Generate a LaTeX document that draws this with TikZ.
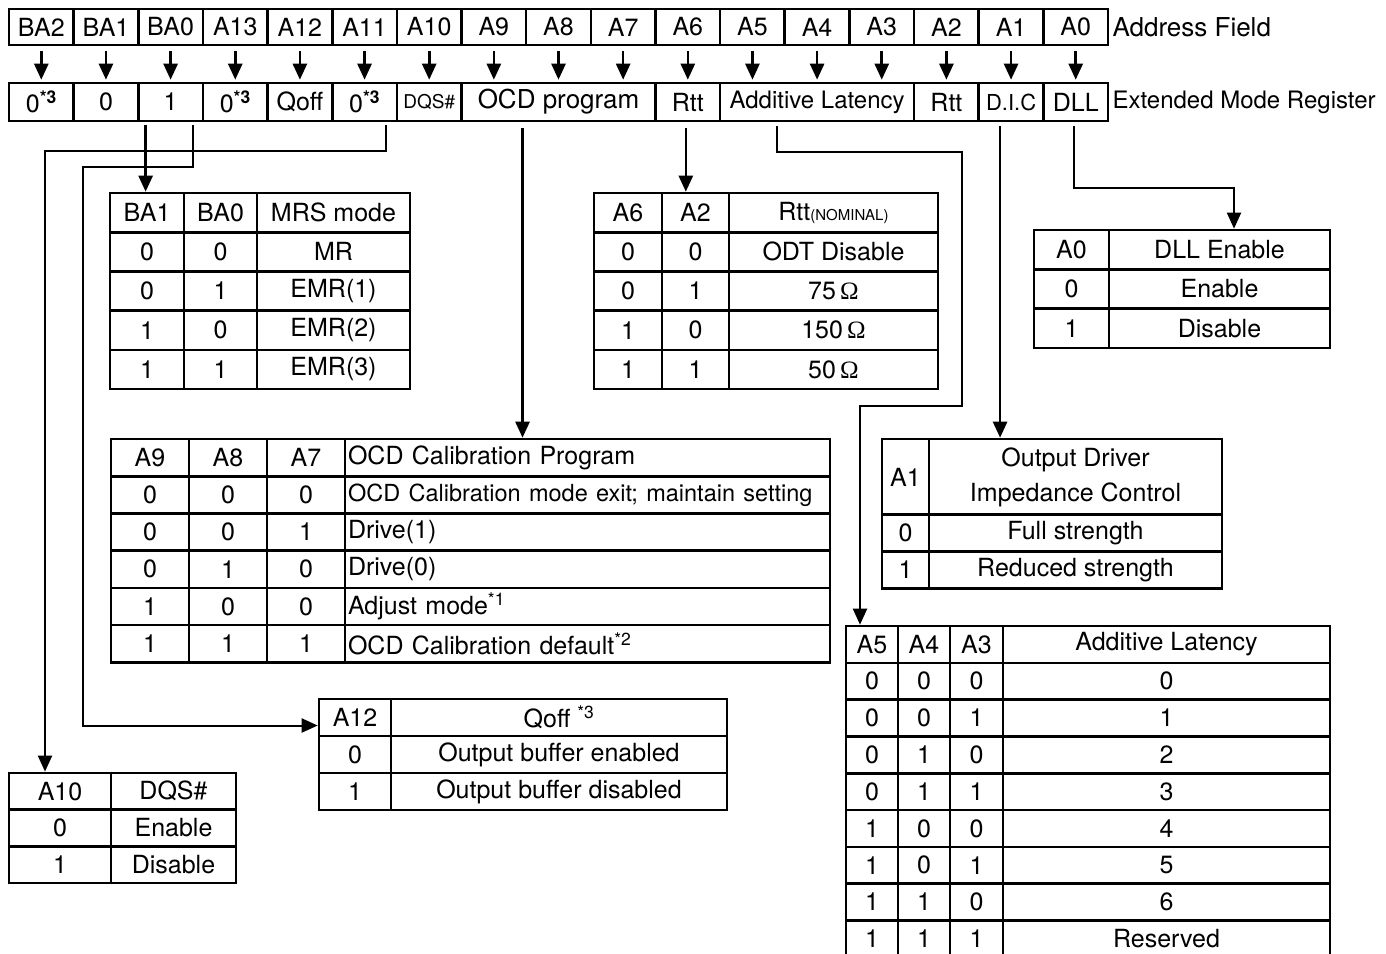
\documentclass[tikz,border=0pt]{standalone}
\usepackage{fontspec}
\setmainfont{TeX Gyre Heros}
\newfontfamily\omegafont{Liberation Serif}
\usetikzlibrary{arrows.meta,positioning}

\newcommand{\supnote}[1]{\textsuperscript{#1}}
\newcommand{\ohm}{\,{\omegafont Ω}}

\tikzset{
  cell/.style={draw, line width=2.6pt, inner sep=0pt, align=center,
    font=\fontsize{25}{30}\selectfont},
  drop/.style={line width=2.6pt, -{Triangle[length=16pt,width=14pt]}},
  wire/.style={line width=2pt, -{Triangle[length=16pt,width=14pt]}},
}

\begin{document}
\begin{tikzpicture}[x=1pt, y=-1pt]
	\useasboundingbox (0,0) rectangle (1386,953);
	\clip (0,0) rectangle (1386,953);
	
	% Address field row
	\foreach \lab [count=\i from 0] in {BA2,BA1,BA0,A13,A12,A11,A10,A9,A8,A7,A6,A5,A4,A3,A2,A1,A0}
	\node[cell, minimum width=64.65pt, minimum height=36pt] (a\i) at (41.3+64.65*\i, 27) {\lab};
	\node[anchor=west, inner sep=3pt, font=\fontsize{26}{30}\selectfont] (addrlab) at (a16.east) {Address Field};
	
	% Extended mode register row
	\foreach \c/\n/\lab [count=\i from 0] in {0/1/{0\supnote{\bfseries *3}}, 1/1/0, 2/1/1,
		3/1/{0\supnote{\bfseries *3}}, 4/1/Qoff, 5/1/{0\supnote{\bfseries *3}},
		6/1/{\fontsize{19}{22}\selectfont DQS\#}, 7/3/{\fontsize{26}{30}\selectfont OCD program}, 10/1/Rtt,
		11/3/{\fontsize{24}{28}\selectfont Additive Latency}, 14/1/Rtt, 15/1/{\fontsize{22}{26}\selectfont D.I.C}, 16/1/DLL}
	\node[cell, minimum width=64.65pt*\n, minimum height=38pt] (e\i) at (9+64.65*\c+32.325*\n, 102) {\lab};
	\node[anchor=west, inner sep=3pt, font=\fontsize{24}{28}\selectfont] (emrlab) at (e12.east) {Extended Mode Register};
	
	% Arrows from address bits down to the register
	\foreach \i in {0,...,16}
	\draw[drop, shorten <=5pt, shorten >=2pt] (a\i.south) -- (a\i.south |- e0.north);
	
	% MRS mode table
	\foreach \p/\q/\m [count=\r from 0] in {BA1/BA0/MRS mode, 0/0/MR, 0/1/EMR(1), 1/0/EMR(2), 1/1/EMR(3)} {
		\node[cell, minimum width=74pt, minimum height=39.2pt] (m\r-a) at (147, 212.6+39.2*\r) {\p};
		\node[cell, minimum width=73pt, minimum height=39.2pt] (m\r-b) at (220.5, 212.6+39.2*\r) {\q};
		\node[cell, minimum width=153pt, minimum height=39.2pt] (m\r-c) at (333.5, 212.6+39.2*\r) {\m};
	}
	
	% Rtt table
	\foreach \p/\q/\m [count=\r from 0] in {A6/A2/{Rtt{\fontsize{15}{18}\selectfont(NOMINAL)}},
		0/0/ODT Disable, 0/1/{75\ohm}, 1/0/{150\ohm}, 1/1/{50\ohm}} {
		\node[cell, minimum width=68pt, minimum height=39.2pt] (r\r-a) at (628, 212.6+39.2*\r) {\p};
		\node[cell, minimum width=67pt, minimum height=39.2pt] (r\r-b) at (695.5, 212.6+39.2*\r) {\q};
		\node[cell, minimum width=209pt, minimum height=39.2pt] (r\r-c) at (833.5, 212.6+39.2*\r) {\m};
	}
	
	% DLL enable table
	\foreach \p/\q [count=\r from 0] in {A0/DLL Enable, 0/Enable, 1/Disable} {
		\node[cell, minimum width=75pt, minimum height=39.3pt] (g\r-a) at (1071.5, 249.6+39.3*\r) {\p};
		\node[cell, minimum width=221pt, minimum height=39.3pt] (g\r-b) at (1219.5, 249.6+39.3*\r) {\q};
	}
	
	% Output driver impedance table
	\node[cell, minimum width=47pt, minimum height=76pt] (i0-a) at (905.5, 477) {A1};
	\node[cell, minimum width=293pt, minimum height=76pt, font=\fontsize{25}{35}\selectfont]
	(i0-b) at (1075.5, 477) {Output Driver\\Impedance Control};
	\foreach \p/\q [count=\r from 1] in {0/Full strength, 1/Reduced strength} {
		\node[cell, minimum width=47pt, minimum height=37pt] (i\r-a) at (905.5, 496+37*\r) {\p};
		\node[cell, minimum width=293pt, minimum height=37pt] (i\r-b) at (1075.5, 496+37*\r) {\q};
	}
	
	% OCD calibration table
	\foreach \p/\q/\s/\t [count=\r from 0] in {A9/A8/A7/OCD Calibration Program,
		0/0/0/{\fontsize{23.5}{28}\selectfont OCD Calibration mode exit; maintain setting},
		0/0/1/Drive(1), 0/1/0/Drive(0), 1/0/0/{Adjust mode\supnote{*1}},
		1/1/1/{OCD Calibration default\supnote{*2}}} {
		\node[cell, minimum width=78pt, minimum height=37.2pt] (o\r-a) at (150, 457.6+37.2*\r) {\p};
		\node[cell, minimum width=78pt, minimum height=37.2pt] (o\r-b) at (228, 457.6+37.2*\r) {\q};
		\node[cell, minimum width=78pt, minimum height=37.2pt] (o\r-c) at (306, 457.6+37.2*\r) {\s};
		\node[cell, anchor=west, text width=479pt, inner xsep=3pt, align=left,
		minimum height=37.2pt] (o\r-d) at (343.7, 457.6+37.2*\r) {\t};
	}
	
	% Qoff table
	\foreach \p/\q [count=\r from 0] in {A12/{Qoff \supnote{*3}}, 0/Output buffer enabled, 1/Output buffer disabled} {
		\node[cell, minimum width=72pt, minimum height=37pt] (q\r-a) at (355, 717.5+37*\r) {\p};
		\node[cell, minimum width=336pt, minimum height=37pt] (q\r-b) at (559, 717.5+37*\r) {\q};
	}
	
	% DQS# table
	\foreach \p/\q [count=\r from 0] in {A10/DQS\#, 0/Enable, 1/Disable} {
		\node[cell, minimum width=102pt, minimum height=36.7pt] (d\r-a) at (60, 791.3+36.7*\r) {\p};
		\node[cell, minimum width=125pt, minimum height=36.7pt] (d\r-b) at (173.5, 791.3+36.7*\r) {\q};
	}
	
	% Additive latency table
	\foreach \p/\q/\s/\t [count=\r from 0] in {A5/A4/A3/Additive Latency, 0/0/0/0, 0/0/1/1,
		0/1/0/2, 0/1/1/3, 1/0/0/4, 1/0/1/5, 1/1/0/6, 1/1/1/Reserved} {
		\node[cell, minimum width=52pt, minimum height=36.8pt] (l\r-a) at (872, 644.4+36.8*\r) {\p};
		\node[cell, minimum width=52pt, minimum height=36.8pt] (l\r-b) at (924, 644.4+36.8*\r) {\q};
		\node[cell, minimum width=53pt, minimum height=36.8pt] (l\r-c) at (976.5, 644.4+36.8*\r) {\s};
		\node[cell, minimum width=327pt, minimum height=36.8pt] (l\r-d) at (1166.5, 644.4+36.8*\r) {\t};
	}
	
	% Bends of the routed connectors
	\coordinate (qoffbend) at (83, 167);
	\coordinate (dqsbend) at (45, 151);
	\coordinate (albend1) at (962, 152);
	\coordinate (albend2) at (860, 406);
	\coordinate (dllbend) at (1234, 188);
	
	% Connectors from the register to the tables
	\draw[drop, shorten <=3pt] ([xshift=-25pt]e2.south) -- ([xshift=-25pt]e2.south |- m0-a.north);
	\draw[wire, shorten <=3pt] ([xshift=22pt]e2.south) |- (qoffbend) |- ([yshift=-8pt]q0-a.west);
	\draw[wire, shorten <=3pt] ([xshift=21pt]e5.south) |- (dqsbend) -- (dqsbend |- d0-a.north);
	\draw[drop, shorten <=6pt] ([xshift=-36pt]e7.south) -- ([xshift=-36pt]e7.south |- o0-d.north);
	\draw[drop, shorten <=6pt] ([xshift=-2pt]e8.south) -- ([xshift=-2pt]e8.south |- r0-a.north);
	\draw[wire, shorten <=4pt] ([xshift=-40pt]e9.south) |- (albend1) |- (albend2) -- (albend2 |- l0-a.north);
	\draw[drop, shorten <=4pt] ([xshift=-11pt]e11.south) -- ([xshift=-11pt]e11.south |- i0-b.north);
	\draw[wire, shorten <=4pt] ([xshift=-2pt]e12.south) |- (dllbend) -- (dllbend |- g0-b.north);
\end{tikzpicture}
\end{document}
